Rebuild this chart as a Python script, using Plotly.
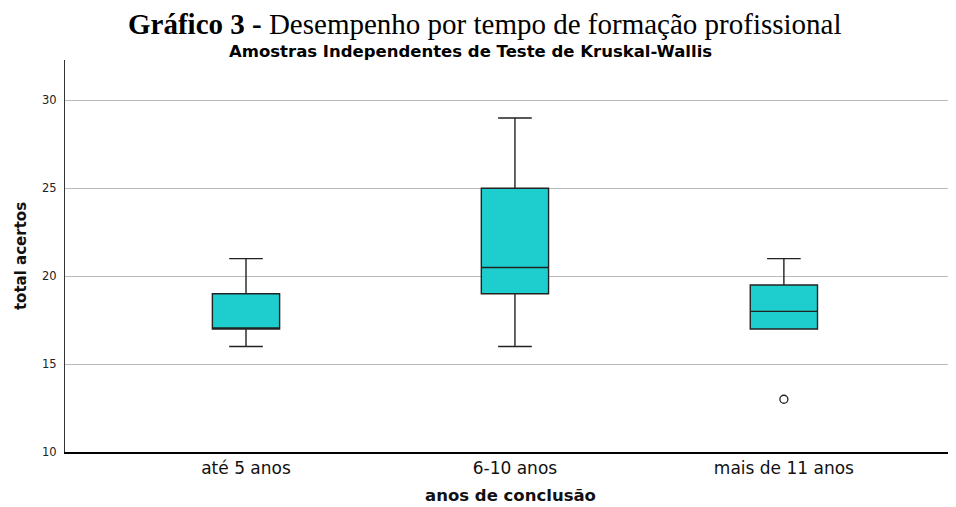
import plotly.graph_objects as go

categories = ["até 5 anos", "6-10 anos", "mais de 11 anos"]
q1 = [17, 19, 17]
median = [17, 20.5, 18]
q3 = [19, 25, 19.5]
lower = [16, 16, 17]
upper = [21, 29, 21]
outlier_cat = ["mais de 11 anos"]
outlier_val = [13]
y_ticks = [10, 15, 20, 25, 30]

# page body has an 8px margin; figure is placed at (8, 8)
OFF = 8
W, H = 956 - OFF, 507 - OFF
L, T, R, B = 65 - OFF, 60 - OFF, 0, 507 - 452

fig = go.Figure()
fig.add_trace(go.Box(
    x=categories, q1=q1, median=median, q3=q3,
    lowerfence=lower, upperfence=upper,
    width=0.25, whiskerwidth=0.5,
    fillcolor="#1ECECE",
    line=dict(color="#222222", width=1.4),
    boxpoints=False, showlegend=False, hoverinfo="skip",
))
fig.add_trace(go.Scatter(
    x=outlier_cat, y=outlier_val, mode="markers",
    marker=dict(symbol="circle-open", size=8, color="#222222", line=dict(width=1.3)),
    showlegend=False, hoverinfo="skip",
))

fig.update_layout(
    width=W, height=H,
    margin=dict(l=L, r=R, t=T, b=B),
    plot_bgcolor="white", paper_bgcolor="white",
    xaxis=dict(
        type="category", range=[-0.673, 2.64],
        showline=True, linecolor="black", linewidth=2,
        showgrid=False, ticks="", 
        tickfont=dict(family="DejaVu Sans", size=17, color="#111"),
        title=dict(text="<b>anos de conclusão</b>", standoff=12,
                   font=dict(family="DejaVu Sans", size=16.5, color="#111")),
        automargin=False,
    ),
    yaxis=dict(
        range=[10, 32.3], tickvals=y_ticks,
        showline=True, linecolor="#333", linewidth=1,
        showgrid=True, gridcolor="#BBBBBB", gridwidth=1,
        zeroline=False, ticks="outside", ticklen=5, tickcolor="white",
        tickfont=dict(family="DejaVu Sans", size=11.5, color="#222"),
        title=dict(text="<b>total acertos</b>", standoff=11,
                   font=dict(family="DejaVu Sans", size=15, color="#111")),
        automargin=False,
    ),
)

def px_to_paper(px, py):
    pw, ph = W - L - R, H - T - B
    return (px - OFF - L) / pw, (H - B - (py - OFF)) / ph

ann = [
    ("<b>Gráfico 3 -</b> Desempenho por tempo de formação profissional",
     485, 24, "Liberation Serif", 29),
    ("<b>Amostras Independentes de Teste de Kruskal-Wallis</b>",
     470, 52, "DejaVu Sans", 16.5),
]
for text, px, py, fam, sz in ann:
    ax, ay = px_to_paper(px, py)
    fig.add_annotation(text=text, x=ax, y=ay, xref="paper", yref="paper",
                       showarrow=False, xanchor="center", yanchor="middle",
                       font=dict(family=fam, size=sz, color="black"))

fig.write_html("out.html")
